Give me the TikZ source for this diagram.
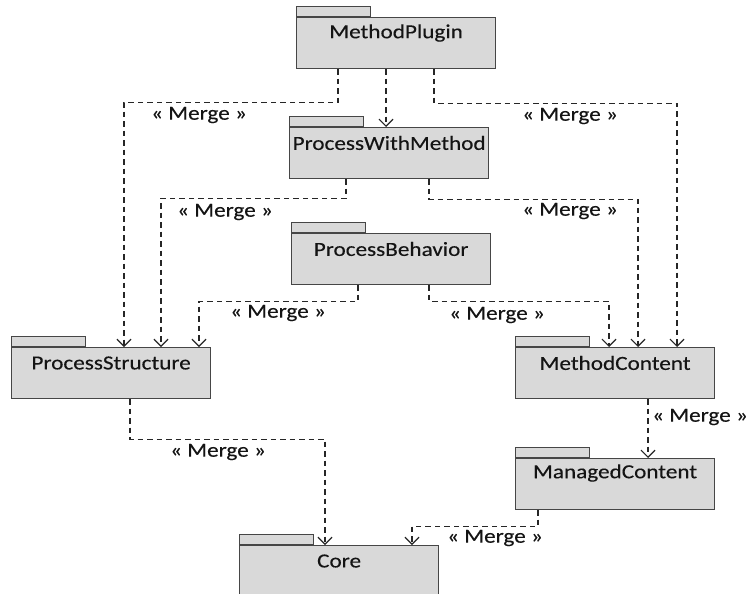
\documentclass[tikz,border=0pt]{standalone}
\usepackage{fontspec}
\setmainfont{Carlito}
\newfontfamily\diafont[FakeStretch=1.16,FakeBold=0.25]{Carlito}
\usetikzlibrary{arrows.meta,calc}
\definecolor{boxfill}{RGB}{217,217,217}
\definecolor{boxline}{RGB}{70,70,70}
\definecolor{txt}{RGB}{20,20,20}
\tikzset{
  pbody/.style={draw=boxline, fill=boxfill, line width=1.2pt, minimum width=199, minimum height=51, anchor=north west, inner sep=0pt},
  ptab/.style={draw=boxline, fill=boxfill, line width=1.2pt, minimum width=74, minimum height=10, anchor=south west, inner sep=0pt},
  ptext/.style={font=\diafont\fontsize{20}{23}\selectfont, text=txt, inner sep=0pt},
  mlabel/.style={font=\diafont\fontsize{20}{23}\selectfont, text=txt, inner sep=0pt},
  dep/.style={draw=black!85, line width=1.3pt, dash pattern=on 5.5pt off 4pt, -{Straight Barb[length=7pt,width=14pt,line width=1.2pt]}}
}
\begin{document}
\begin{tikzpicture}[x=1pt,y=-1pt]
\useasboundingbox (0,0) rectangle (747,594);
% packages
\node[pbody] (mp) at (296,17) {};
\node[ptab] (mpt) at (mp.north west) {};
\node[ptext] (mpl) at ($(mp.north)+(0,16)$) {MethodPlugin};

\node[pbody] (pwm) at (289,127) {};
\node[ptab] (pwmt) at (pwm.north west) {};
\node[ptext] (pwml) at ($(pwm.north)+(0,16)$) {ProcessWithMethod};

\node[pbody] (pb) at (291,233) {};
\node[ptab] (pbt) at (pb.north west) {};
\node[ptext] (pbl) at ($(pb.north)+(0,16)$) {ProcessBehavior};

\node[pbody] (ps) at (11,347) {};
\node[ptab] (pst) at (ps.north west) {};
\node[ptext] (psl) at ($(ps.north)+(0,16)$) {ProcessStructure};

\node[pbody] (mc) at (515,347) {};
\node[ptab] (mct) at (mc.north west) {};
\node[ptext] (mcl) at ($(mc.north)+(0,16)$) {MethodContent};

\node[pbody] (manc) at (515,458) {};
\node[ptab] (manct) at (manc.north west) {};
\node[ptext] (mancl) at ($(manc.north)+(0,15)$) {ManagedContent};

\node[pbody, minimum height=70] (core) at (239,545) {};
\node[ptab] (coret) at (core.north west) {};
\node[ptext] (corel) at ($(core.north)+(0,16)$) {Core};

% connectors
\draw[dep] ([xshift=42pt]mp.south west) -- ++(0,33) -| ([xshift=113pt]ps.north west);
\draw[dep] ([xshift=90pt]mp.south west) -- ([xshift=90pt]mp.south west |- pwm.north);
\draw[dep] ([xshift=138pt]mp.south west) -- ++(0,34) -| ([xshift=162pt]mc.north west);

\draw[dep] ([xshift=57pt]pwm.south west) -- ++(0,19) -| ([xshift=150pt]ps.north west);
\draw[dep] ([xshift=140pt]pwm.south west) -- ++(0,20) -| ([xshift=123pt]mc.north west);

\draw[dep] ([xshift=67pt]pb.south west) -- ++(0,16) -| ([xshift=188pt]ps.north west);
\draw[dep] ([xshift=138pt]pb.south west) -- ++(0,16) -| ([xshift=94pt]mc.north west);

\draw[dep] ([xshift=119pt]ps.south west) -- ++(0,40) -| ([xshift=86pt]core.north west);
\draw[dep] ([xshift=133pt]mc.south west) -- ([xshift=133pt]mc.south west |- manc.north);
\draw[dep] ([xshift=23pt]manc.south west) -- ++(0,16) -| ([xshift=173pt]core.north west);

% labels
\node[mlabel] (m1) at (199,115) {« Merge »};
\node[mlabel] (m2) at (570,116) {« Merge »};
\node[mlabel] (m3) at (225,212) {« Merge »};
\node[mlabel] (m4) at (570,211) {« Merge »};
\node[mlabel] (m5) at (278,313) {« Merge »};
\node[mlabel] (m6) at (497,315) {« Merge »};
\node[mlabel] (m7) at (218,452) {« Merge »};
\node[mlabel] (m8) at (700,417) {« Merge »};
\node[mlabel] (m9) at (495,538) {« Merge »};
\end{tikzpicture}
\end{document}
